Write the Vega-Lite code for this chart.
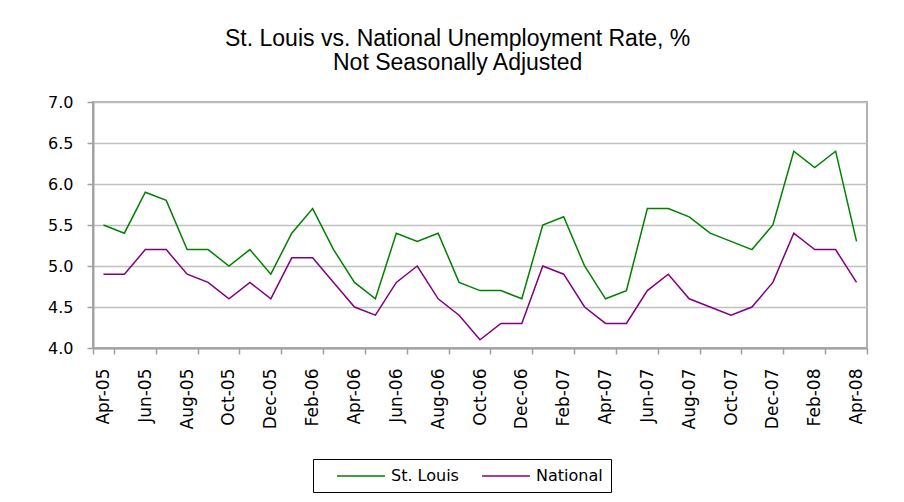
{
  "$schema": "https://vega.github.io/schema/vega-lite/v6.json",
  "width": 774,
  "height": 246,
  "padding": {"left": 47, "top": 28, "right": 30, "bottom": 5},
  "background": "white",
  "title": {
    "text": ["St. Louis vs. National Unemployment Rate, %", "Not Seasonally Adjusted"],
    "font": "Liberation Sans",
    "fontSize": 23,
    "fontWeight": "normal",
    "color": "black",
    "lineHeight": 24,
    "anchor": "middle",
    "frame": "bounds",
    "offset": 19
  },
  "data": {
    "values": [
      {"month": "Apr-05", "series": "St. Louis", "rate": 5.5},
      {"month": "May-05", "series": "St. Louis", "rate": 5.4},
      {"month": "Jun-05", "series": "St. Louis", "rate": 5.9},
      {"month": "Jul-05", "series": "St. Louis", "rate": 5.8},
      {"month": "Aug-05", "series": "St. Louis", "rate": 5.2},
      {"month": "Sep-05", "series": "St. Louis", "rate": 5.2},
      {"month": "Oct-05", "series": "St. Louis", "rate": 5.0},
      {"month": "Nov-05", "series": "St. Louis", "rate": 5.2},
      {"month": "Dec-05", "series": "St. Louis", "rate": 4.9},
      {"month": "Jan-06", "series": "St. Louis", "rate": 5.4},
      {"month": "Feb-06", "series": "St. Louis", "rate": 5.7},
      {"month": "Mar-06", "series": "St. Louis", "rate": 5.2},
      {"month": "Apr-06", "series": "St. Louis", "rate": 4.8},
      {"month": "May-06", "series": "St. Louis", "rate": 4.6},
      {"month": "Jun-06", "series": "St. Louis", "rate": 5.4},
      {"month": "Jul-06", "series": "St. Louis", "rate": 5.3},
      {"month": "Aug-06", "series": "St. Louis", "rate": 5.4},
      {"month": "Sep-06", "series": "St. Louis", "rate": 4.8},
      {"month": "Oct-06", "series": "St. Louis", "rate": 4.7},
      {"month": "Nov-06", "series": "St. Louis", "rate": 4.7},
      {"month": "Dec-06", "series": "St. Louis", "rate": 4.6},
      {"month": "Jan-07", "series": "St. Louis", "rate": 5.5},
      {"month": "Feb-07", "series": "St. Louis", "rate": 5.6},
      {"month": "Mar-07", "series": "St. Louis", "rate": 5.0},
      {"month": "Apr-07", "series": "St. Louis", "rate": 4.6},
      {"month": "May-07", "series": "St. Louis", "rate": 4.7},
      {"month": "Jun-07", "series": "St. Louis", "rate": 5.7},
      {"month": "Jul-07", "series": "St. Louis", "rate": 5.7},
      {"month": "Aug-07", "series": "St. Louis", "rate": 5.6},
      {"month": "Sep-07", "series": "St. Louis", "rate": 5.4},
      {"month": "Oct-07", "series": "St. Louis", "rate": 5.3},
      {"month": "Nov-07", "series": "St. Louis", "rate": 5.2},
      {"month": "Dec-07", "series": "St. Louis", "rate": 5.5},
      {"month": "Jan-08", "series": "St. Louis", "rate": 6.4},
      {"month": "Feb-08", "series": "St. Louis", "rate": 6.2},
      {"month": "Mar-08", "series": "St. Louis", "rate": 6.4},
      {"month": "Apr-08", "series": "St. Louis", "rate": 5.3},
      {"month": "Apr-05", "series": "National", "rate": 4.9},
      {"month": "May-05", "series": "National", "rate": 4.9},
      {"month": "Jun-05", "series": "National", "rate": 5.2},
      {"month": "Jul-05", "series": "National", "rate": 5.2},
      {"month": "Aug-05", "series": "National", "rate": 4.9},
      {"month": "Sep-05", "series": "National", "rate": 4.8},
      {"month": "Oct-05", "series": "National", "rate": 4.6},
      {"month": "Nov-05", "series": "National", "rate": 4.8},
      {"month": "Dec-05", "series": "National", "rate": 4.6},
      {"month": "Jan-06", "series": "National", "rate": 5.1},
      {"month": "Feb-06", "series": "National", "rate": 5.1},
      {"month": "Mar-06", "series": "National", "rate": 4.8},
      {"month": "Apr-06", "series": "National", "rate": 4.5},
      {"month": "May-06", "series": "National", "rate": 4.4},
      {"month": "Jun-06", "series": "National", "rate": 4.8},
      {"month": "Jul-06", "series": "National", "rate": 5.0},
      {"month": "Aug-06", "series": "National", "rate": 4.6},
      {"month": "Sep-06", "series": "National", "rate": 4.4},
      {"month": "Oct-06", "series": "National", "rate": 4.1},
      {"month": "Nov-06", "series": "National", "rate": 4.3},
      {"month": "Dec-06", "series": "National", "rate": 4.3},
      {"month": "Jan-07", "series": "National", "rate": 5.0},
      {"month": "Feb-07", "series": "National", "rate": 4.9},
      {"month": "Mar-07", "series": "National", "rate": 4.5},
      {"month": "Apr-07", "series": "National", "rate": 4.3},
      {"month": "May-07", "series": "National", "rate": 4.3},
      {"month": "Jun-07", "series": "National", "rate": 4.7},
      {"month": "Jul-07", "series": "National", "rate": 4.9},
      {"month": "Aug-07", "series": "National", "rate": 4.6},
      {"month": "Sep-07", "series": "National", "rate": 4.5},
      {"month": "Oct-07", "series": "National", "rate": 4.4},
      {"month": "Nov-07", "series": "National", "rate": 4.5},
      {"month": "Dec-07", "series": "National", "rate": 4.8},
      {"month": "Jan-08", "series": "National", "rate": 5.4},
      {"month": "Feb-08", "series": "National", "rate": 5.2},
      {"month": "Mar-08", "series": "National", "rate": 5.2},
      {"month": "Apr-08", "series": "National", "rate": 4.8}
    ]
  },
  "mark": {"type": "line", "strokeWidth": 1.5},
  "encoding": {
    "x": {
      "field": "month",
      "type": "ordinal",
      "sort": null,
      "bandPosition": 0.5,
      "scale": {"type": "band", "paddingInner": 0, "paddingOuter": 0},
      "axis": {
        "title": null,
        "values": ["Apr-05", "Jun-05", "Aug-05", "Oct-05", "Dec-05", "Feb-06", "Apr-06", "Jun-06", "Aug-06", "Oct-06", "Dec-06", "Feb-07", "Apr-07", "Jun-07", "Aug-07", "Oct-07", "Dec-07", "Feb-08", "Apr-08"],
        "tickBand": "extent",
        "labelAngle": -90,
        "labelAlign": "right",
        "labelBaseline": "middle",
        "labelFont": "DejaVu Sans",
        "labelFontSize": 17,
        "labelColor": "black",
        "labelPadding": 14,
        "domainColor": "#a0a0a0",
        "domainWidth": 2,
        "tickColor": "#a0a0a0",
        "tickSize": 6,
        "tickWidth": 1.5,
        "grid": false
      }
    },
    "y": {
      "field": "rate",
      "type": "quantitative",
      "scale": {"domain": [4, 7], "zero": false, "nice": false},
      "axis": {
        "title": null,
        "values": [4, 4.5, 5, 5.5, 6, 6.5, 7],
        "format": ".1f",
        "labelFont": "DejaVu Sans",
        "labelFontSize": 16,
        "labelColor": "black",
        "labelPadding": 14,
        "domainColor": "#a0a0a0",
        "domainWidth": 2,
        "tickColor": "#a0a0a0",
        "tickSize": 6,
        "tickWidth": 1.5,
        "grid": true,
        "gridColor": "#c0c0c0",
        "gridWidth": 1.5
      }
    },
    "color": {
      "field": "series",
      "type": "nominal",
      "sort": ["St. Louis", "National"],
      "scale": {"domain": ["St. Louis", "National"], "range": ["#008000", "#800080"]},
      "legend": {
        "title": null,
        "orient": "none",
        "direction": "horizontal",
        "legendX": 220,
        "legendY": 357,
        "symbolType": "M-3,0H3",
        "symbolSize": 256,
        "symbolStrokeWidth": 1.5,
        "symbolOffset": 31,
        "labelOffset": 21,
        "labelFont": "DejaVu Sans",
        "labelFontSize": 16,
        "labelColor": "black",
        "strokeColor": "black",
        "padding": 8,
        "columnPadding": 7
      }
    }
  },
  "config": {
    "view": {"stroke": "#b0b0b0", "strokeWidth": 2}
  }
}
